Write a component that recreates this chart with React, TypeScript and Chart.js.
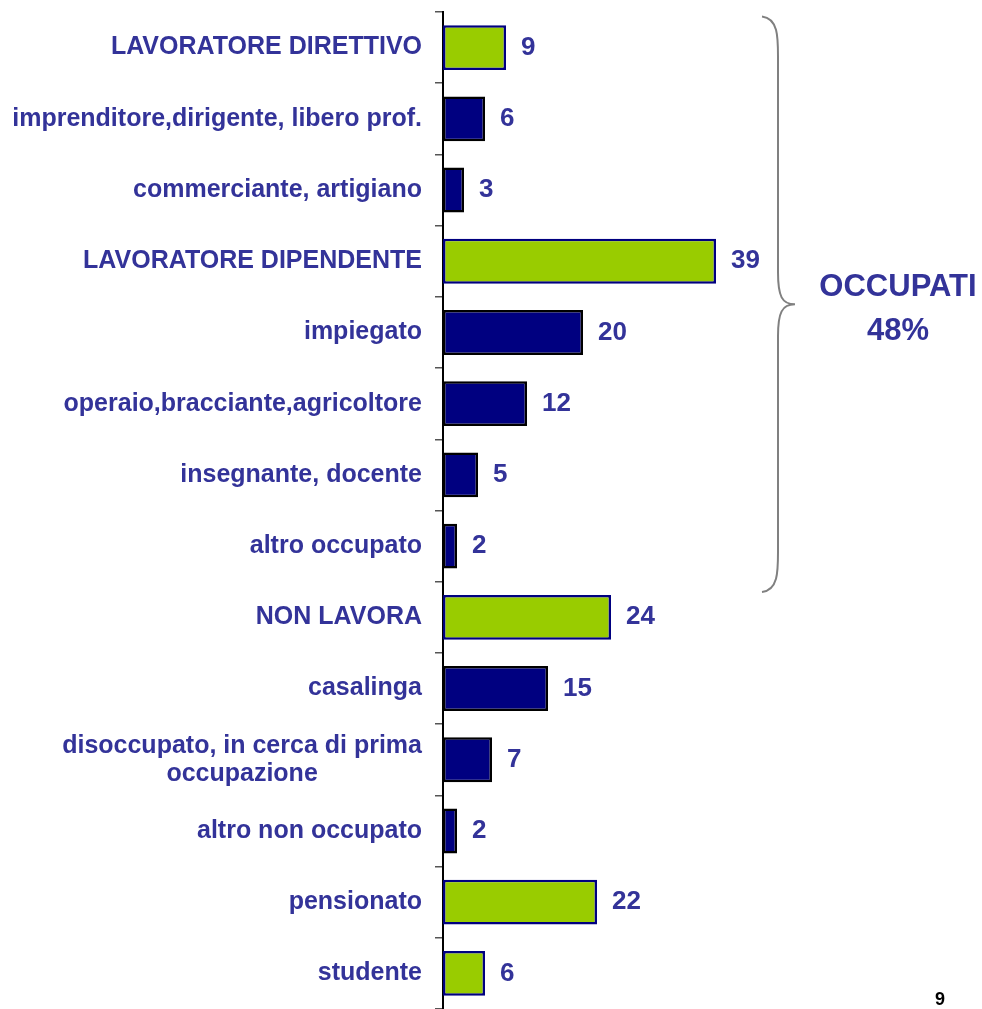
import React, { useEffect, useRef } from "react";
import { Chart, registerables } from "chart.js";

Chart.register(...registerables);

const categories: (string | string[])[] = [
  "LAVORATORE DIRETTIVO",
  "imprenditore,dirigente, libero prof.",
  "commerciante, artigiano",
  "LAVORATORE DIPENDENTE",
  "impiegato",
  "operaio,bracciante,agricoltore",
  "insegnante, docente",
  "altro occupato",
  "NON LAVORA",
  "casalinga",
  ["disoccupato, in cerca di prima", "occupazione"],
  "altro non occupato",
  "pensionato",
  "studente",
];
const values = [9, 6, 3, 39, 20, 12, 5, 2, 24, 15, 7, 2, 22, 6];
const isGroup = [true, false, false, true, false, false, false, false, true, false, false, false, true, true];
const braceLabel = ["OCCUPATI", "48%"];
const pageNumber = "9";

const FONT = '"Liberation Sans", Arial, sans-serif';
const TEXT = "#333399";
const GREEN = "#99CC00";
const NAVY = "#000080";

const overlay = {
  id: "overlay",
  afterDraw(chart: any) {
    const ctx = chart.ctx;
    const ys = chart.scales.y;
    const xs = chart.scales.x;
    ctx.save();
    // category labels
    ctx.fillStyle = TEXT;
    ctx.font = `bold 25px ${FONT}`;
    ctx.textBaseline = "middle";
    const rightX = chart.chartArea.left - 21;
    categories.forEach((lab, i) => {
      const y = ys.getPixelForValue(i);
      const lines = Array.isArray(lab) ? lab : [lab];
      if (lines.length === 1) {
        ctx.textAlign = "right";
        ctx.fillText(lines[0], rightX, y);
      } else {
        const w = Math.max(...lines.map((l) => ctx.measureText(l).width));
        const cx = rightX - w / 2;
        ctx.textAlign = "center";
        const lh = 28;
        lines.forEach((l, k) => {
          ctx.fillText(l, cx, y + (k - (lines.length - 1) / 2) * lh);
        });
      }
    });
    // value labels
    ctx.font = `bold 26px ${FONT}`;
    ctx.textAlign = "left";
    values.forEach((v, i) => {
      ctx.fillText(String(v), xs.getPixelForValue(v) + 15, ys.getPixelForValue(i));
    });
    // brace
    const top = ys.getPixelForValue(0) - 31;
    const bot = ys.getPixelForValue(7) + 46;
    const mid = (top + bot) / 2;
    const xe = 762, xv = 778, xt = 795;
    ctx.strokeStyle = "#808080";
    ctx.lineWidth = 2;
    ctx.beginPath();
    ctx.moveTo(xe, top);
    ctx.bezierCurveTo(xv, top + 2, xv, top + 20, xv, top + 40);
    ctx.lineTo(xv, mid - 32);
    ctx.bezierCurveTo(xv, mid - 8, xv + 4, mid, xt, mid);
    ctx.bezierCurveTo(xv + 4, mid, xv, mid + 8, xv, mid + 32);
    ctx.lineTo(xv, bot - 40);
    ctx.bezierCurveTo(xv, bot - 20, xv, bot - 2, xe, bot);
    ctx.stroke();
    // brace label
    ctx.fillStyle = TEXT;
    ctx.font = `bold 31px ${FONT}`;
    ctx.textAlign = "center";
    ctx.fillText(braceLabel[0], 898, 287);
    ctx.fillText(braceLabel[1], 898, 331);
    // page number
    ctx.fillStyle = "#000000";
    ctx.font = `bold 18px ${FONT}`;
    ctx.fillText(pageNumber, 940, 1000);
    ctx.restore();
  },
};

export default function App() {
  const ref = useRef<HTMLCanvasElement | null>(null);
  useEffect(() => {
    if (!ref.current) return;
    const chart = new Chart(ref.current, {
      type: "bar",
      data: {
        labels: categories as any,
        datasets: [
          {
            data: values,
            backgroundColor: isGroup.map((g) => (g ? GREEN : NAVY)),
            borderColor: isGroup.map((g) => (g ? NAVY : "#000000")),
            borderWidth: 2.5,
            borderSkipped: false,
            barPercentage: 0.63,
            categoryPercentage: 1,
          },
        ],
      },
      options: {
        indexAxis: "y",
        animation: false,
        responsive: false,
        maintainAspectRatio: false,
        layout: { padding: { top: 12, bottom: -3, left: 0, right: 49 } },
        plugins: { legend: { display: false }, tooltip: { enabled: false } },
        scales: {
          x: { display: false, min: 0, max: 70 },
          y: {
            ticks: { display: false },
            grid: {
              drawOnChartArea: false,
              drawTicks: true,
              tickLength: 8,
              color: "#555555",
              lineWidth: 1.5,
              offset: true,
            },
            border: { display: true, color: "#000000", width: 2 },
            afterFit: (scale: any) => {
              scale.width = 443;
            },
          },
        },
      },
      plugins: [overlay],
    });
    return () => chart.destroy();
  }, []);
  return (
    <canvas
      ref={ref}
      width={982}
      height={1009}
      style={{ position: "absolute", left: 0, top: 0, width: 982, height: 1009 }}
    />
  );
}
